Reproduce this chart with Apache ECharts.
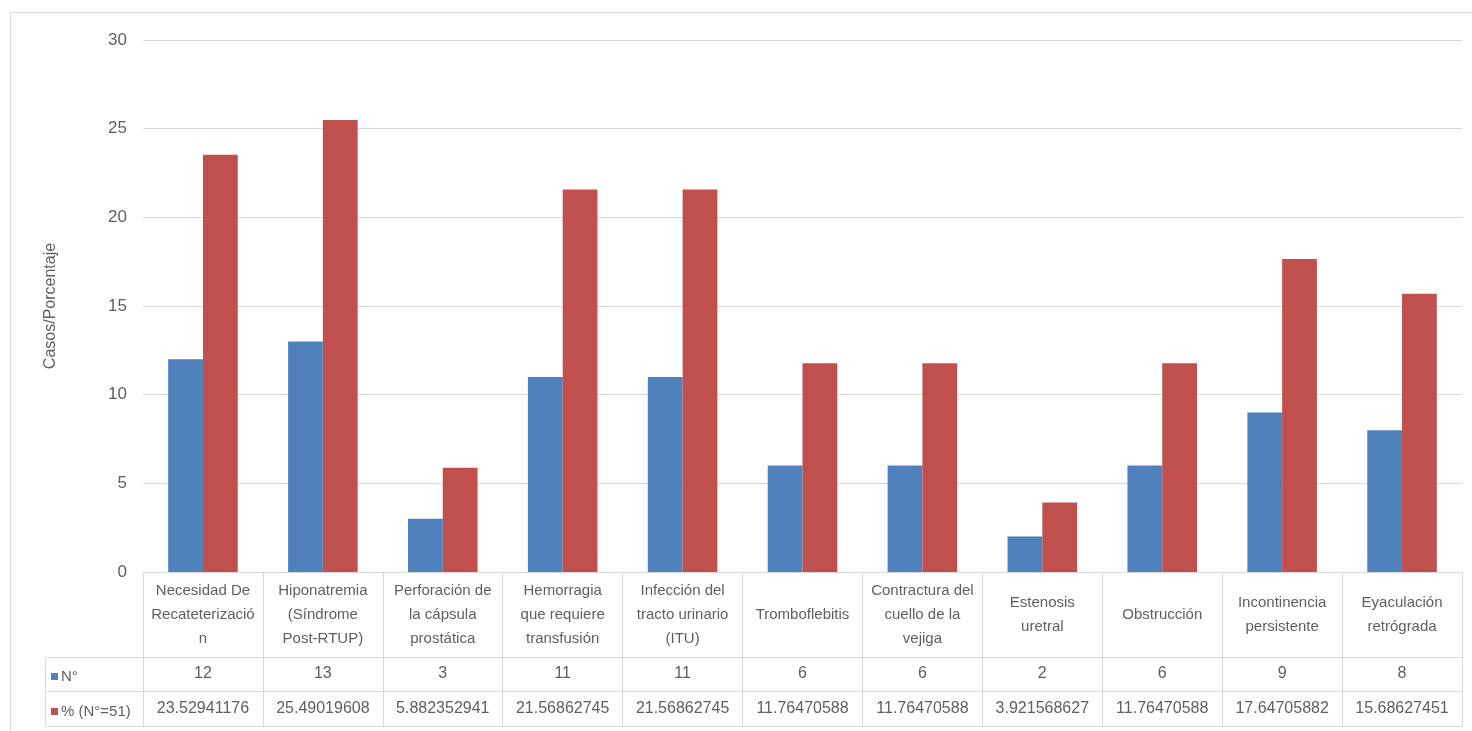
<!DOCTYPE html>
<html>
<head>
<meta charset="utf-8">
<script src="https://cdn.jsdelivr.net/npm/echarts@6/dist/echarts.min.js"></script>
<style>
  html, body { margin: 0; padding: 0; background: #fff; }
  #chart { width: 1472px; height: 731px; }
</style>
</head>
<body>
<div id="chart"></div>
<script>
// categorías (con los saltos de línea tal como aparecen en la tabla)
const categories = [
  'Necesidad De\nRecateterizació\nn',
  'Hiponatremia\n(Síndrome\nPost-RTUP)',
  'Perforación de\nla cápsula\nprostática',
  'Hemorragia\nque requiere\ntransfusión',
  'Infección del\ntracto urinario\n(ITU)',
  'Tromboflebitis',
  'Contractura del\ncuello de la\nvejiga',
  'Estenosis\nuretral',
  'Obstrucción',
  'Incontinencia\npersistente',
  'Eyaculación\nretrógrada'
];
const seriesNames = ['N°', '% (N°=51)'];
const casos = [12, 13, 3, 11, 11, 6, 6, 2, 6, 9, 8];
const porcentaje = [23.52941176, 25.49019608, 5.882352941, 21.56862745, 21.56862745,
  11.76470588, 11.76470588, 3.921568627, 11.76470588, 17.64705882, 15.68627451];
const yTicks = [0, 5, 10, 15, 20, 25, 30];

const FONT = '"Liberation Sans", Arial, sans-serif';
const TXT = '#5f5f5f';
const LINE = '#d9d9d9';

const chart = echarts.init(document.getElementById('chart'));

// tabla de datos bajo el eje: filas de 85 / 34 / 35 px
const gridLeft = 143, gridBottomY = 572;
const rowHeader = 85, rowN = 34, rowP = 35;

function tableAxis(offset, formatter, labelMargin) {
  return {
    type: 'category',
    gridIndex: 0,
    position: 'bottom',
    offset: offset,
    data: categories,
    axisLine: { show: true, lineStyle: { color: LINE, width: 1 } },
    axisTick: { show: false },
    axisLabel: {
      show: !!formatter,
      interval: 0,
      margin: labelMargin,
      verticalAlign: 'middle',
      color: TXT,
      fontFamily: FONT,
      fontSize: 16,
      formatter: formatter || undefined
    }
  };
}

const option = {
  backgroundColor: '#fff',
  animation: false,
  grid: { left: gridLeft, right: 10, top: 40, bottom: 731 - gridBottomY },
  legend: {
    orient: 'vertical',
    left: 46,
    top: 664,
    itemGap: 20,
    itemWidth: 7,
    itemHeight: 7,
    icon: 'rect',
    selectedMode: false,
    textStyle: { color: TXT, fontFamily: FONT, fontSize: 15, padding: [0, 0, 0, -2] },
    data: seriesNames
  },
  xAxis: [
    {
      type: 'category',
      data: categories,
      axisLine: { show: true, lineStyle: { color: LINE, width: 1 } },
      axisTick: {
        show: true, interval: 0, length: rowHeader + rowN + rowP,
        lineStyle: { color: LINE, width: 1 }
      },
      axisLabel: {
        interval: 0,
        margin: rowHeader / 2,
        verticalAlign: 'middle',
        lineHeight: 24,
        color: TXT,
        fontFamily: FONT,
        fontSize: 15
      }
    },
    tableAxis(rowHeader, (v, i) => String(casos[i]), rowN / 2),
    tableAxis(rowHeader + rowN, (v, i) => String(porcentaje[i]), rowP / 2),
    tableAxis(rowHeader + rowN + rowP, null, 0)
  ],
  yAxis: {
    type: 'value',
    min: yTicks[0],
    max: yTicks[yTicks.length - 1],
    interval: 5,
    name: 'Casos/Porcentaje',
    nameLocation: 'middle',
    nameGap: 84,
    nameTextStyle: { color: TXT, fontFamily: FONT, fontSize: 16 },
    axisLine: { show: false },
    axisTick: { show: false },
    axisLabel: { color: TXT, fontFamily: FONT, fontSize: 17, margin: 16 },
    splitLine: { lineStyle: { color: LINE, width: 1 } }
  },
  series: [
    {
      name: seriesNames[0],
      type: 'bar',
      data: casos,
      barGap: '0%',
      barCategoryGap: '42%',
      itemStyle: { color: '#4f81bd' }
    },
    {
      name: seriesNames[1],
      type: 'bar',
      data: porcentaje,
      barGap: '0%',
      barCategoryGap: '42%',
      itemStyle: { color: '#c0504d' }
    }
  ],
  graphic: [
    // marco del gráfico
    {
      type: 'rect', silent: true,
      shape: { x: 10.5, y: 12.5, width: 1470, height: 730 },
      style: { fill: 'none', stroke: LINE, lineWidth: 1 }
    },
    // columna de leyenda de la tabla
    {
      type: 'polyline', silent: true,
      shape: { points: [[gridLeft, gridBottomY + rowHeader + 0.5], [45.5, gridBottomY + rowHeader + 0.5],
        [45.5, gridBottomY + rowHeader + rowN + rowP + 0.5], [gridLeft, gridBottomY + rowHeader + rowN + rowP + 0.5]] },
      style: { fill: 'none', stroke: LINE, lineWidth: 1 }
    },
    {
      type: 'line', silent: true,
      shape: { x1: 45.5, y1: gridBottomY + rowHeader + rowN + 0.5, x2: gridLeft, y2: gridBottomY + rowHeader + rowN + 0.5 },
      style: { stroke: LINE, lineWidth: 1 }
    }
  ]
};

chart.setOption(option);
</script>
</body>
</html>
